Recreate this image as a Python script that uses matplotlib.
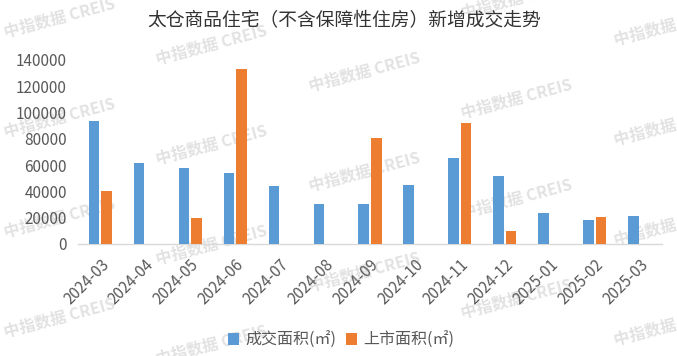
import matplotlib
matplotlib.use("Agg")
import matplotlib.pyplot as plt
import numpy as np

plt.rcParams['font.family'] = ['Noto Sans CJK SC', 'DejaVu Sans']

months = ["2024-03", "2024-04", "2024-05", "2024-06", "2024-07", "2024-08", "2024-09",
          "2024-10", "2024-11", "2024-12", "2025-01", "2025-02", "2025-03"]
deal_area = [93500, 61600, 57800, 54000, 44100, 30400, 30400, 44900, 65400, 51700, 23600, 18300, 21300]
supply_area = [40300, 0, 19800, 133000, 0, 0, 80600, 0, 92000, 9900, 0, 20500, 0]
title = "太仓商品住宅（不含保障性住房）新增成交走势"
labels = ["成交面积(㎡)", "上市面积(㎡)"]
yticks = [0, 20000, 40000, 60000, 80000, 100000, 120000, 140000]

W, H = 677, 356
fig = plt.figure(figsize=(W / 100, H / 100), dpi=100)

# watermark (behind the chart)
for ci, xc in enumerate([60, 212, 365, 517, 670]):
    base = 18 + ci * 27
    for k in range(-1, 4):
        yc = base + k * 100
        if yc > H + 10 or yc < -10:
            continue
        fig.text(xc / W, 1 - yc / H, "中指数据 CREIS", fontsize=11.5, fontweight='bold',
                 color='#e2e2e2', rotation=15, ha='center', va='center', zorder=-1)

ax = fig.add_axes([78 / W, 1 - 244 / H, (662 - 78) / W, (244 - 60) / H])
ax.patch.set_alpha(0)
x = np.arange(len(months))
w = 0.235
b1 = ax.bar(x - 0.14, deal_area, w, color='#5B9BD5', label=labels[0], zorder=3)
b2 = ax.bar(x + 0.14, supply_area, w, color='#ED7D31', label=labels[1], zorder=3)

ax.set_xlim(-0.5, len(months) - 0.5)
ax.set_ylim(0, 140000)
ax.set_yticks(yticks)
ax.set_yticklabels([str(v) for v in yticks], fontsize=11, color='#595959')
ax.set_xticks(x)
ax.set_xticklabels(months, rotation=45, ha='right', rotation_mode='anchor',
                   fontsize=11, color='#595959')
ax.tick_params(axis='both', length=0)
ax.tick_params(axis='x', pad=9)
ax.tick_params(axis='y', pad=8)
for s in ['top', 'right', 'left']:
    ax.spines[s].set_visible(False)
ax.spines['bottom'].set_color('#d9d9d9')
ax.spines['bottom'].set_linewidth(1.0)

fig.text(344 / W, 1 - 21 / H, title, fontsize=13.5, color='#333333', ha='center', va='center')

leg = fig.legend(handles=[b1, b2], labels=labels, loc='center', bbox_to_anchor=(341 / W, 1 - 340 / H),
                 ncol=2, frameon=False, fontsize=11.5, handlelength=0.7, handleheight=0.7,
                 handletextpad=0.4, columnspacing=0.6)
for t in leg.get_texts():
    t.set_color('#595959')

fig.savefig("out.png", dpi=100)
